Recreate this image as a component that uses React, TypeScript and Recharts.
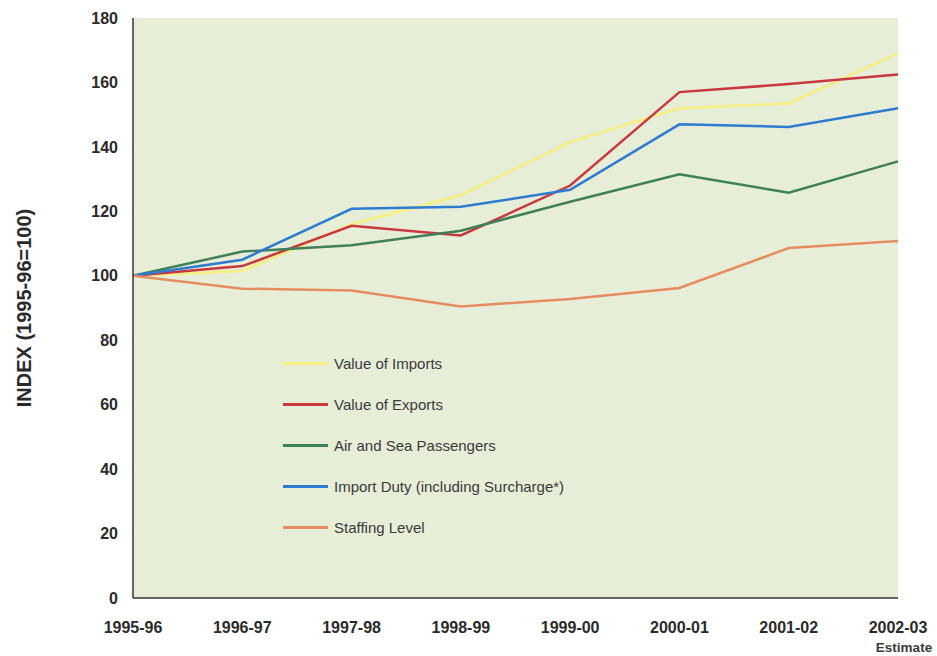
import { CartesianGrid, Line, LineChart, XAxis, YAxis } from "recharts"

const categories = ["1995-96", "1996-97", "1997-98", "1998-99", "1999-00", "2000-01", "2001-02", "2002-03"]
const imports = [100, 101.5, 116, 125, 141.5, 152, 153.5, 169]
const exportsValue = [100, 103, 115.5, 112.5, 128, 157, 159.5, 162.5]
const passengers = [100, 107.5, 109.5, 114, 123, 131.5, 125.8, 135.5]
const importDuty = [100, 105, 120.8, 121.4, 126.7, 147, 146.2, 152]
const staffing = [100, 96, 95.4, 90.5, 92.8, 96.2, 108.6, 110.8]
const yTicks = [0, 20, 40, 60, 80, 100, 120, 140, 160, 180]

const series = [
  { key: "imports", name: "Value of Imports", color: "#f6ee7e", values: imports },
  { key: "exports", name: "Value of Exports", color: "#c9383f", values: exportsValue },
  { key: "passengers", name: "Air and Sea Passengers", color: "#3f8058", values: passengers },
  { key: "duty", name: "Import Duty (including Surcharge*)", color: "#2e7bd0", values: importDuty },
  { key: "staffing", name: "Staffing Level", color: "#e68c60", values: staffing },
]

const data = categories.map((c, i) => {
  const row: Record<string, string | number> = { name: c }
  series.forEach((s) => (row[s.key] = s.values[i]))
  return row
})

const font = "'Liberation Sans', Arial, sans-serif"

function XTick(props: any) {
  const { x, y, payload, index } = props
  return (
    <g>
      <text x={x} y={y} dy={12} textAnchor="middle" fontFamily={font} fontSize={16} fontWeight="bold" fill="#2a2a2a">
        {payload.value}
      </text>
      {index === categories.length - 1 && (
        <text x={x + 6} y={y + 31} textAnchor="middle" fontFamily={font} fontSize={13.5} fontWeight="bold" fill="#3a3a3a">
          Estimate
        </text>
      )}
    </g>
  )
}

// legend sits inside the plot area, lower left
function LegendBox() {
  return (
    <div style={{ position: "absolute", left: 283, top: 343, fontFamily: font, fontSize: 15, color: "#3a3a3a" }}>
      {series.map((s) => (
        <div key={s.key} style={{ display: "flex", alignItems: "center", height: 41 }}>
          <span style={{ display: "inline-block", width: 45, height: 3, background: s.color, marginRight: 6 }} />
          <span>{s.name}</span>
        </div>
      ))}
    </div>
  )
}

export default function App() {
  return (
    <div style={{ position: "absolute", left: 0, top: 0, width: 937, height: 656, background: "#fff" }}>
      <LineChart width={937} height={656} data={data} margin={{ top: 18, right: 39, bottom: 0, left: 0 }}>
        <CartesianGrid horizontal={false} vertical={false} fill="#e7eed7" fillOpacity={1} />
        <XAxis
          dataKey="name"
          height={58}
          axisLine={{ stroke: "#333", strokeWidth: 1.5 }}
          tickLine={false}
          tickSize={0}
          tickMargin={23}
          tick={<XTick />}
          interval={0}
        />
        <XAxis xAxisId="top" orientation="top" dataKey="name" height={0} tick={false} tickLine={false} axisLine={{ stroke: "#555", strokeWidth: 1 }} />
        <YAxis
          domain={[0, 180]}
          ticks={yTicks}
          width={133}
          axisLine={{ stroke: "#333", strokeWidth: 1.5 }}
          tickLine={false}
          tickSize={0}
          tickMargin={15}
          tick={{ fontFamily: font, fontSize: 16, fontWeight: "bold", fill: "#2a2a2a" }}
          label={{
            content: ({ viewBox }: any) => {
              const cy = viewBox.y + viewBox.height / 2
              return (
                <text
                  x={24}
                  y={cy}
                  transform={`rotate(-90 24 ${cy})`}
                  textAnchor="middle"
                  dominantBaseline="central"
                  fontFamily={font}
                  fontSize={20}
                  fontWeight="bold"
                  fill="#2a2a2a"
                >
                  INDEX (1995-96=100)
                </text>
              )
            },
          }}
        />
        <YAxis yAxisId="right" orientation="right" domain={[0, 180]} width={0} tick={false} tickLine={false} axisLine={{ stroke: "#333", strokeWidth: 1.5 }} />
        {series.map((s) => (
          <Line
            key={s.key}
            type="linear"
            dataKey={s.key}
            name={s.name}
            stroke={s.color}
            strokeWidth={2.5}
            dot={false}
            isAnimationActive={false}
          />
        ))}
      </LineChart>
      <LegendBox />
    </div>
  )
}
